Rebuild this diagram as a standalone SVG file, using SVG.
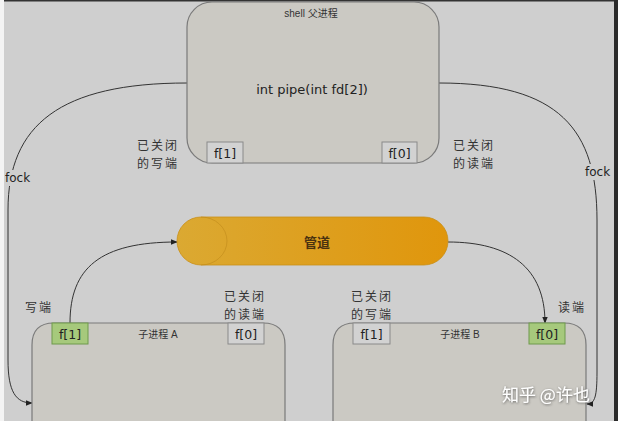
<svg xmlns="http://www.w3.org/2000/svg" width="618" height="421" viewBox="0 0 618 421">
<defs>
<linearGradient id="pg" x1="0" y1="0" x2="1" y2="0">
<stop offset="0" stop-color="#dba932"/>
<stop offset="1" stop-color="#e0960c"/>
</linearGradient>
<marker id="ah" viewBox="0 0 10 10" refX="9" refY="5" markerWidth="7" markerHeight="7" orient="auto" markerUnits="userSpaceOnUse">
<path d="M0,1 L10,5 L0,9 Z" fill="#222"/>
</marker>
<filter id="sh" x="-10%" y="-30%" width="120%" height="160%">
<feDropShadow dx="0.5" dy="0.8" stdDeviation="0.8" flood-color="#333" flood-opacity="0.7"/>
</filter>
</defs>
<style>
.proc{fill:#cbc9c3;stroke:#7a7a7a;stroke-width:1.2}
.fd{fill:#d2d2d2;stroke:#8a8a8a;stroke-width:1}
.fdg{fill:#a6c97c;stroke:#6f9a4c;stroke-width:1}
.fdt{font-family:"DejaVu Sans","Liberation Sans",sans-serif;font-size:12.5px;fill:#222;text-anchor:middle}
.small{font-family:"Liberation Sans","Noto Sans CJK SC",sans-serif;font-size:10px;fill:#333;text-anchor:middle}
.lbl{font-family:"Noto Sans CJK SC",sans-serif;font-size:12px;letter-spacing:2px;fill:#333}
.con{fill:none;stroke:#333;stroke-width:1}
</style>
<rect x="0" y="0" width="618" height="421" fill="#cfcfcf"/>
<rect x="0" y="0" width="4" height="421" fill="#f4f4f4"/>
<rect x="4" y="0" width="614" height="1.5" fill="#333"/>
<rect x="614" y="0" width="4" height="421" fill="#2a2a2a"/>

<g id="connectors">
<path class="con" d="M187,83 C60,83 8,125 8,210 L8,360 C8,392 16,403 32,403" marker-end="url(#ah)"/>
<path class="con" d="M439,83 C560,83 597,130 597,220 L597,372 C597,396 595,404 587,404" marker-end="url(#ah)"/>
<path class="con" d="M70,323 C70,268 100,242 177,242" marker-end="url(#ah)"/>
<path class="con" d="M448,242 C510,242 545,268 545,323" marker-end="url(#ah)"/>
<rect x="4" y="170" width="30" height="16" fill="#cfcfcf"/>
<text x="5" y="182" font-family="DejaVu Sans,sans-serif" font-size="12" fill="#222">fock</text>
<rect x="585" y="164" width="29" height="16" fill="#cfcfcf"/>
<text x="585" y="176" font-family="DejaVu Sans,sans-serif" font-size="12" fill="#222">fock</text>
</g>

<g id="parent">
<rect class="proc" x="187" y="2" width="252" height="161" rx="25"/>
<text class="small" x="311" y="17">shell 父进程</text>
<text x="312" y="94" font-family="DejaVu Sans,sans-serif" font-size="13" fill="#222" text-anchor="middle">int pipe(int fd[2])</text>
<rect class="fd" x="207" y="142" width="36" height="21"/>
<text class="fdt" x="225" y="158">f[1]</text>
<rect class="fd" x="382" y="142" width="35" height="21"/>
<text class="fdt" x="399.5" y="158">f[0]</text>
</g>

<g id="parent-labels">
<text class="lbl" x="137" y="150">已关闭</text>
<text class="lbl" x="137" y="168">的写端</text>
<text class="lbl" x="453" y="150">已关闭</text>
<text class="lbl" x="453" y="168">的读端</text>
</g>

<g id="pipe">
<rect x="177" y="217" width="271" height="48" rx="24" fill="url(#pg)" stroke="#c98f18" stroke-width="0.8"/>
<path d="M201,217 A26,24 0 0 1 201,265" fill="none" stroke="#c08a1a" stroke-width="1" opacity="0.6"/>
<text x="317" y="247" font-family="Noto Sans CJK SC,sans-serif" font-size="13" font-weight="bold" fill="#4a3210" text-anchor="middle">管道</text>
</g>

<g id="childA">
<path class="proc" d="M32,440 L32,345 Q32,323 54,323 L263,323 Q285,323 285,345 L285,440"/>
<rect class="fdg" x="52" y="323" width="36" height="21"/>
<text class="fdt" x="70" y="339">f[1]</text>
<text class="small" x="158" y="338">子进程 A</text>
<rect class="fd" x="228" y="323" width="36" height="21"/>
<text class="fdt" x="246" y="339">f[0]</text>
<text class="lbl" x="25" y="312">写端</text>
<text class="lbl" x="224" y="301">已关闭</text>
<text class="lbl" x="224" y="319">的读端</text>
</g>

<g id="childB">
<path class="proc" d="M333,440 L333,345 Q333,323 355,323 L564,323 Q586,323 586,345 L586,440"/>
<rect class="fd" x="353" y="323" width="37" height="21"/>
<text class="fdt" x="371.5" y="339">f[1]</text>
<text class="small" x="460" y="338">子进程 B</text>
<rect class="fdg" x="529" y="323" width="36" height="21"/>
<text class="fdt" x="547" y="339">f[0]</text>
<text class="lbl" x="351" y="301">已关闭</text>
<text class="lbl" x="351" y="319">的写端</text>
<text class="lbl" x="558" y="312">读端</text>
</g>

<text x="502" y="401" font-family="Noto Sans CJK SC,sans-serif" font-size="17" fill="#ffffff" filter="url(#sh)">知乎 @许也</text>
</svg>
